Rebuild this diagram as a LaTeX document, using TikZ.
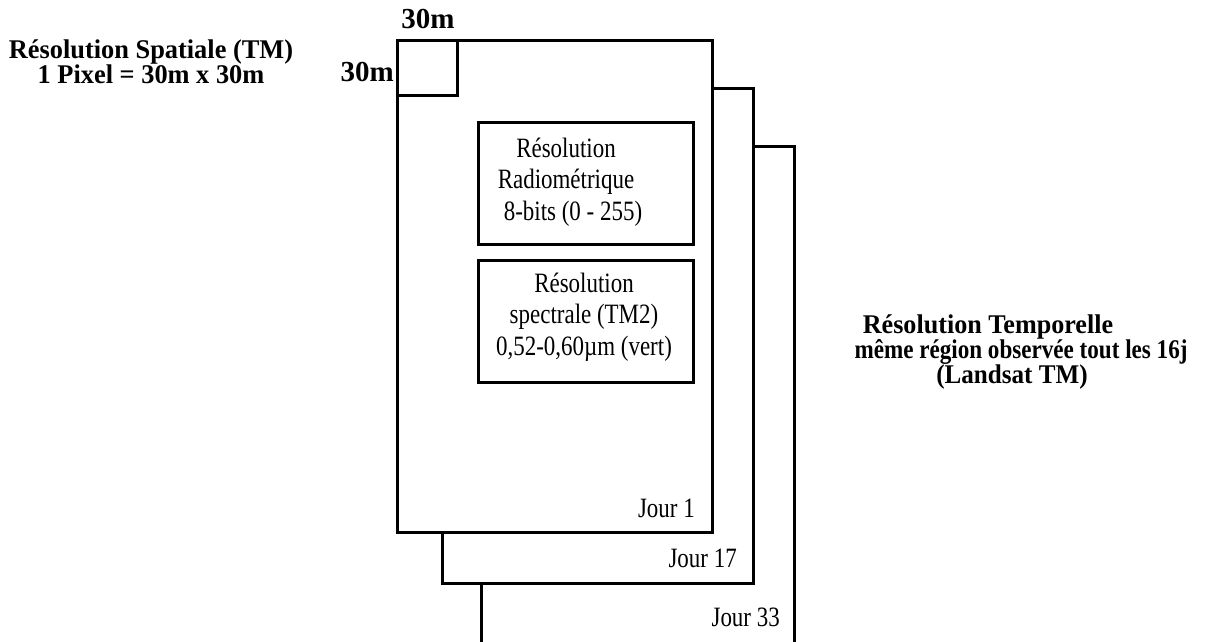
\documentclass[tikz,border=0pt]{standalone}
\usepackage{fontspec}
\setmainfont{Liberation Serif}
\newfontfamily\narrowfont[FakeStretch=0.82]{Liberation Serif}
\newfontfamily\boldnarrow[FakeStretch=0.93]{Liberation Serif}
\tikzset{
  frame/.style={draw=black, line width=3pt, fill=white},
  infobox/.style={draw=black, line width=3pt, fill=white, inner sep=0pt},
  boldlabel/.style={font=\boldnarrow\fontsize{27}{25}\selectfont\bfseries, inner sep=0pt, align=center},
  plainlabel/.style={font=\narrowfont\fontsize{28}{31.5}\selectfont, inner sep=0pt, align=center},
  daylabel/.style={font=\narrowfont\fontsize{28}{30}\selectfont, inner sep=0pt, anchor=east},
  sizelabel/.style={font=\fontsize{29}{30}\selectfont\bfseries, inner sep=0pt},
}
\begin{document}
\begin{tikzpicture}[x=1pt, y=-1pt]
\useasboundingbox (0,0) rectangle (1207,641);
\clip (0,0) rectangle (1207,641);
\fill[white] (0,0) rectangle (1207,641);
% frame of day 33 (open at the bottom, runs off the picture)
\draw[frame] (481,660) coordinate (f3bl) -- (481,146) coordinate (f3tl) -- (794,146) coordinate (f3tr) -- (794,660) coordinate (f3br);
% frame of day 17
\draw[frame] (442,88) coordinate (f2tl) rectangle (753,583) coordinate (f2br);
% frame of day 1
\draw[frame] (397,40) coordinate (f1tl) rectangle (712,532) coordinate (f1br);
% pixel
\draw[frame] (397,40) coordinate (pxtl) rectangle (457,95) coordinate (pxbr);
% inner boxes
\draw[infobox] (478,122) coordinate (b1tl) rectangle (693,244) coordinate (b1br);
\draw[infobox] (478,260) coordinate (b2tl) rectangle (693,382) coordinate (b2br);
\node[plainlabel] (radio) at (566,182) {Résolution\\Radiométrique\\\hspace*{0.5em}8-bits (0 - 255)};
\node[plainlabel] (spectral) at (584,317) {Résolution\\spectrale (TM2)\\0,52-0,60µm (vert)};
% pixel size labels
\node[sizelabel] (topm) at (428,19) {30m};
\node[sizelabel, anchor=east] (leftm) at (394,72) {30m};
% left label
\node[boldlabel] (spatial) at (151,62) {\scalebox{1.05}[1]{Résolution Spatiale (TM)}\\\scalebox{1.05}[1]{1 Pixel = 30m x 30m}};
% right label
\node[boldlabel] (temp1) at (988,327) {\scalebox{1.04}[1]{Résolution Temporelle}};
\node[boldlabel] (temp2) at (1021,352) {\scalebox{0.92}[1]{même région observée tout les 16j}};
\node[boldlabel] (temp3) at (1012,377) {(Landsat TM)};
% day labels
\node[daylabel] (d1) at (695,508) {Jour 1};
\node[daylabel] (d17) at (737,558) {Jour 17};
\node[daylabel] (d33) at (780,617) {Jour 33};
\end{tikzpicture}
\end{document}
